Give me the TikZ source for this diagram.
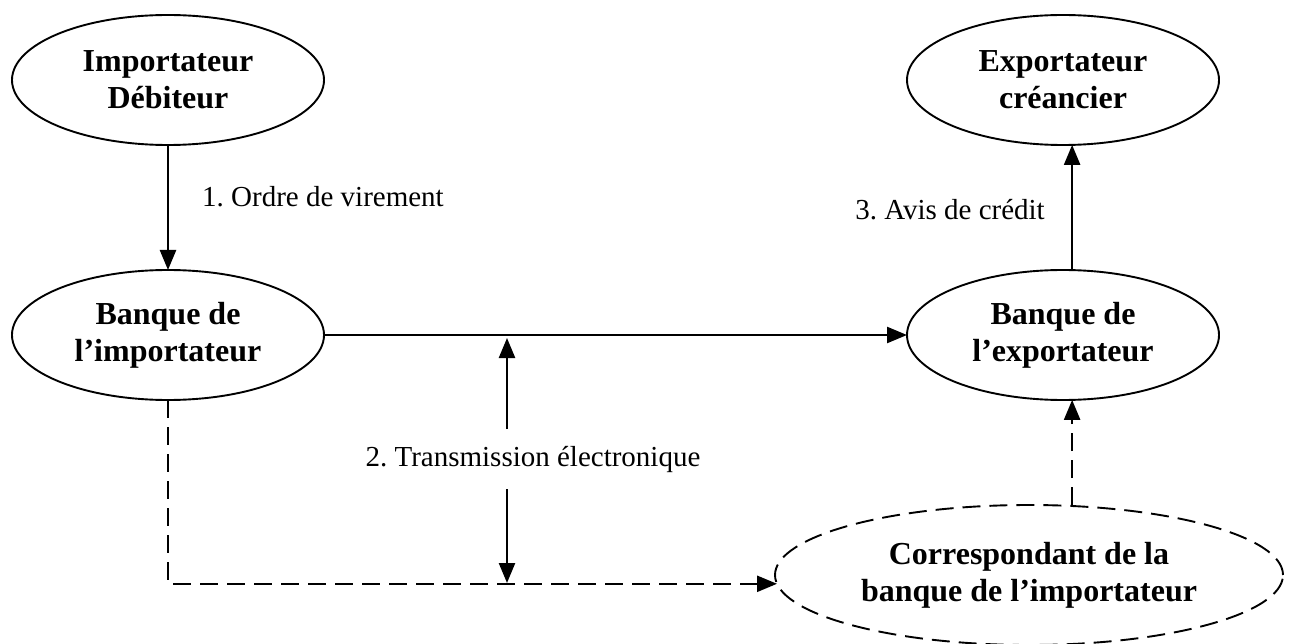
\documentclass[tikz,border=0pt]{standalone}
\usepackage{fontspec}
\setmainfont{Liberation Serif}
\usetikzlibrary{shapes.geometric,arrows.meta}
\frenchspacing

\tikzset{
  party/.style={ellipse, draw, line width=1.9pt, inner sep=0pt, outer sep=0pt,
    minimum width=312pt, minimum height=130pt, align=center,
    font=\bfseries\fontsize{32}{37}\selectfont},
  partydash/.style={party, dash pattern=on 18pt off 9pt,
    minimum width=508pt, minimum height=140pt},
  flowlabel/.style={inner sep=0pt, font=\fontsize{29}{34}\selectfont},
  flow/.style={line width=2.4pt, -{Triangle[length=20pt,width=16pt]}},
  flowdash/.style={flow, dash pattern=on 18pt off 9pt}
}

\begin{document}
\begin{tikzpicture}[x=1pt,y=-1pt]
  \useasboundingbox (0,0) rectangle (1292,644);

  % parties and banks
  \node[party] (imp) at (168,80) {Importateur\\Débiteur};
  \node[party] (exp) at (1063,80) {Exportateur\\créancier};
  \node[party] (bi) at (168,335) {Banque de\\l’importateur};
  \node[party] (be) at (1063,335) {Banque de\\l’exportateur};
  \node[partydash] (corr) at (1029,575) {Correspondant de la\\banque de l’importateur};

  % step labels
  \node[flowlabel, anchor=west] (t1) at (202,197) {1. Ordre de virement};
  \node[flowlabel, anchor=east] (t3) at (1045,210) {3. Avis de crédit};
  \node[flowlabel] (t2) at (533,460) {2. Transmission électronique};

  % ends of the transmission arrows
  \coordinate (tup) at (507,338);
  \coordinate (tupgap) at (507,429);
  \coordinate (tlowgap) at (507,489);
  \coordinate (tlow) at (507,583);

  % main flows
  \draw[flow] (imp.south) -- (bi.north);
  \draw[flow] (bi.east) -- (be.west);
  \draw[flow] (be.82) -- (exp.-82);

  % dashed route through the correspondent
  \draw[flowdash] (bi.south) |- (corr.182);
  \draw[flowdash] (be.-82 |- corr.north) -- (be.-82);

  % electronic transmission
  \draw[flow] (tupgap) -- (tup);
  \draw[flow] (tlowgap) -- (tlow);
\end{tikzpicture}
\end{document}
